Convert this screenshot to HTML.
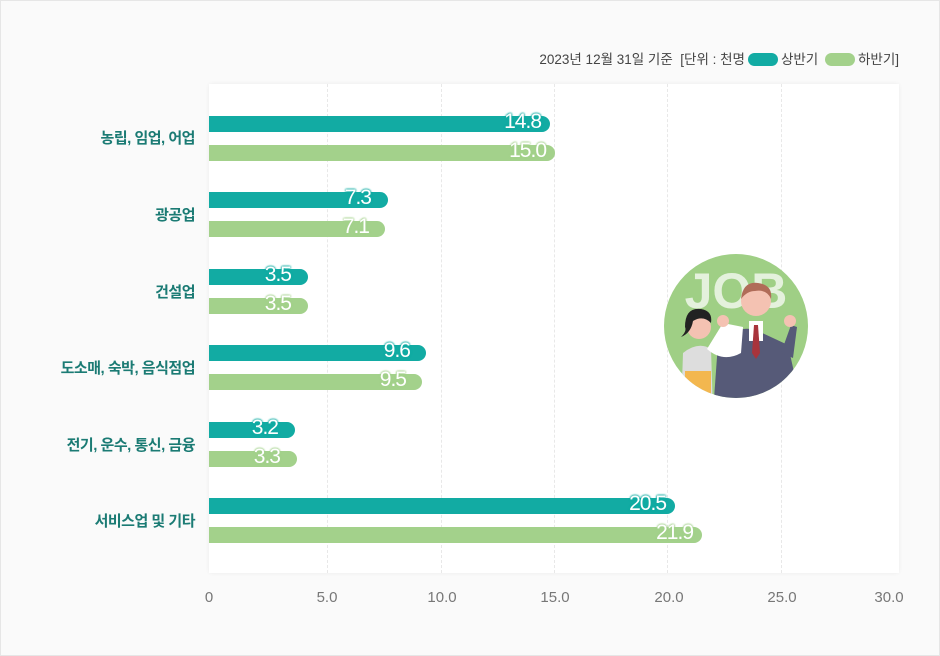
<!DOCTYPE html>
<html><head><meta charset="utf-8"><style>
body{margin:0;background:#fff}
.wrap{position:relative;width:938px;height:654px;border:1px solid #e6e6e6;background:#fafafa;font-family:"Liberation Sans","Noto Sans CJK KR",sans-serif;overflow:hidden}
.panel{position:absolute;left:208px;top:83px;width:690px;height:489px;background:#fff;box-shadow:0 0 4px rgba(0,0,0,.06)}
.grid{position:absolute;top:0;height:489px;border-left:1px dashed #e8e8e8}
.bar{position:absolute;left:208px;height:16px;border-radius:0 8px 8px 0}
.b1{background:#12aba3}.b2{background:#a3d18b}
.val{position:absolute;font-size:21px;color:#fff;letter-spacing:-1px;text-align:right;width:80px;line-height:20px}
.v1{text-shadow:0 0 2px #12aba3,0 0 2px #12aba3,0 0 2px #12aba3}
.v2{text-shadow:0 0 2px #a3d18b,0 0 2px #a3d18b,0 0 2px #a3d18b}
.lab{position:absolute;right:744px;font-size:15px;font-weight:bold;color:#1b7b74;white-space:nowrap;letter-spacing:-0.5px}
.tick{position:absolute;top:588px;font-size:15px;color:#777;width:60px;text-align:center;margin-left:-30px}
.leg{position:absolute;top:47px;right:40px;font-size:13.5px;color:#444;white-space:nowrap}
.pill{display:inline-block;width:30px;height:13px;border-radius:7px;vertical-align:-2px;margin:0 3px}
</style></head><body><div class="wrap">
<div class="leg">2023년 12월 31일 기준 &nbsp;[단위 : 천명<span class="pill" style="background:#12aba3"></span>상반기 <span class="pill" style="background:#a3d18b"></span>하반기]</div>
<div class="panel">
<div class="grid" style="left:118px"></div><div class="grid" style="left:232px"></div><div class="grid" style="left:345px"></div><div class="grid" style="left:458px"></div><div class="grid" style="left:572px"></div>
</div>
<svg style="position:absolute;left:662px;top:252px" width="146" height="146" viewBox="0 0 146 146">
<defs><clipPath id="c"><circle cx="73" cy="73" r="72"/></clipPath></defs>
<circle cx="73" cy="73" r="72" fill="#9fcf85"/>
<g clip-path="url(#c)">
<text x="73" y="55" text-anchor="middle" font-family="Liberation Sans" font-weight="bold" font-size="50" fill="#e4f1dc">JOB</text>
<path d="M50 160 L55 90 Q75 70 95 78 L125 92 L140 160 Z" fill="#565a78"/>
<rect x="86" y="68" width="14" height="20" fill="#fff"/>
<polygon points="91,72 95,72 97,100 93,106 89,100" fill="#a8343c"/>
<circle cx="93" cy="48" r="15" fill="#f4c2b2"/>
<path d="M78 46 Q80 28 95 30 Q110 32 108 46 Q104 36 92 38 Q84 38 78 46Z" fill="#b06c58"/>
<path d="M118 100 L128 72 L134 74 L130 105Z" fill="#565a78"/>
<circle cx="127" cy="68" r="6" fill="#f4c2b2"/>
<path d="M18 160 L20 100 Q35 88 48 96 L50 160Z" fill="#ddd"/>
<path d="M44 96 L60 70 L80 74 L78 100 Q60 110 44 96Z" fill="#fff"/>
<circle cx="60" cy="68" r="6" fill="#f4c2b2"/>
<circle cx="36" cy="74" r="12" fill="#f4c2b2"/>
<path d="M22 74 Q22 54 38 56 Q50 58 48 70 Q40 62 30 68 Q28 80 18 84 Q24 78 22 74Z" fill="#222"/>
<rect x="22" y="118" width="26" height="30" fill="#f3b74f"/>
</g></svg>

<div class="bar b1" style="top:115px;width:341px"></div><div class="val v1" style="left:460px;top:111px">14.8</div>
<div class="bar b2" style="top:144px;width:346px"></div><div class="val v2" style="left:465px;top:140px">15.0</div>
<div class="bar b1" style="top:191px;width:179px"></div><div class="val v1" style="left:290px;top:187px">7.3</div>
<div class="bar b2" style="top:220px;width:176px"></div><div class="val v2" style="left:288px;top:216px">7.1</div>
<div class="bar b1" style="top:268px;width:99px"></div><div class="val v1" style="left:210px;top:264px">3.5</div>
<div class="bar b2" style="top:297px;width:99px"></div><div class="val v2" style="left:210px;top:293px">3.5</div>
<div class="bar b1" style="top:344px;width:217px"></div><div class="val v1" style="left:329px;top:340px">9.6</div>
<div class="bar b2" style="top:373px;width:213px"></div><div class="val v2" style="left:325px;top:369px">9.5</div>
<div class="bar b1" style="top:421px;width:86px"></div><div class="val v1" style="left:197px;top:417px">3.2</div>
<div class="bar b2" style="top:450px;width:88px"></div><div class="val v2" style="left:199px;top:446px">3.3</div>
<div class="bar b1" style="top:497px;width:466px"></div><div class="val v1" style="left:585px;top:493px">20.5</div>
<div class="bar b2" style="top:526px;width:493px"></div><div class="val v2" style="left:612px;top:522px">21.9</div>

<div class="lab" style="top:126px">농립, 임업, 어업</div>
<div class="lab" style="top:203px">광공업</div>
<div class="lab" style="top:280px">건설업</div>
<div class="lab" style="top:356px">도소매, 숙박, 음식점업</div>
<div class="lab" style="top:433px">전기, 운수, 통신, 금융</div>
<div class="lab" style="top:509px">서비스업 및 기타</div>

<div class="tick" style="left:208px">0</div><div class="tick" style="left:326px">5.0</div><div class="tick" style="left:441px">10.0</div><div class="tick" style="left:554px">15.0</div><div class="tick" style="left:668px">20.0</div><div class="tick" style="left:781px">25.0</div><div class="tick" style="left:888px">30.0</div>
</div></body></html>
